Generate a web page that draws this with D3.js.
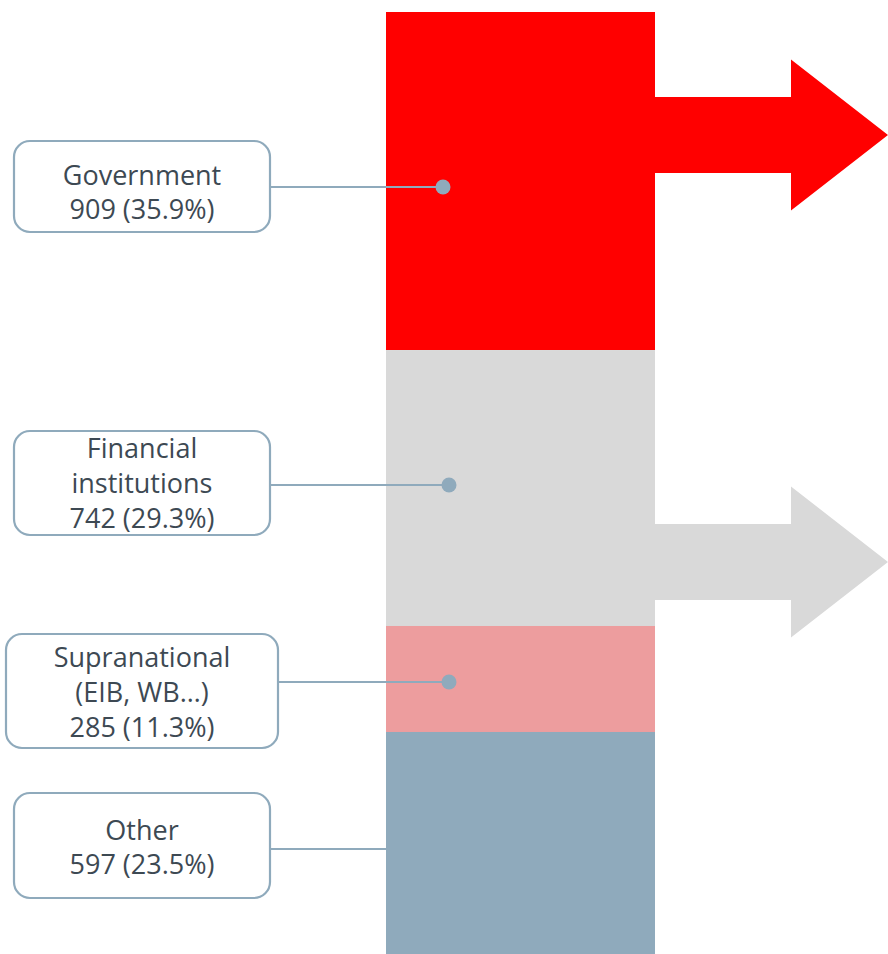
<!DOCTYPE html>
<html><head><meta charset="utf-8">
<script src="https://cdn.jsdelivr.net/npm/d3@7"></script>
<style>html,body{margin:0;padding:0;background:#fff;}svg{display:block;}</style>
</head><body>
<svg id="chart" width="888" height="954"></svg>
<script>
const categories = ["Government", "Financial institutions", "Supranational (EIB, WB…)", "Other"];
const labelLines = [["Government"], ["Financial", "institutions"], ["Supranational", "(EIB, WB…)"], ["Other"]];
const values = [909, 742, 285, 597];
const percents = [35.9, 29.3, 11.3, 23.5];
const colors = ["#ff0000", "#d9d9d9", "#ed9d9e", "#8faabc"];
const arrowCategories = ["Government", "Financial institutions"];

const svg = d3.select("#chart");
const total = d3.sum(values);
const y = d3.scaleLinear().domain([0, total]).range([12, 954]);
const x = d3.scaleBand().domain(["all"]).range([386, 655]).padding(0);

let cum = 0;
const segs = values.map((v, i) => { const s = {cat: categories[i], v, p: percents[i], c: colors[i], y0: cum, y1: cum + v, lines: labelLines[i]}; cum += v; return s; });

// arrows
const arrowY = {"Government": 135, "Financial institutions": 562};
arrowCategories.forEach(cat => {
  const s = segs.find(d => d.cat === cat);
  const cy = arrowY[cat];
  const x0 = x("all") + x.bandwidth(), xh = 791, xt = 888, sh = 38, hh = 75.5;
  const pts = [[x0 - 1, cy - sh], [xh, cy - sh], [xh, cy - hh], [xt, cy], [xh, cy + hh], [xh, cy + sh], [x0 - 1, cy + sh]];
  svg.append("path").attr("d", d3.line()(pts) + "Z").attr("fill", s.c);
});

// bars
svg.selectAll("rect.seg").data(segs).join("rect").attr("class", "seg")
  .attr("x", x("all")).attr("width", x.bandwidth())
  .attr("y", d => y(d.y0)).attr("height", d => y(d.y1) - y(d.y0))
  .attr("fill", d => d.c);

// labels
const lineColor = "#8faabc";
const lineYs = [187, 485, 682, 849];
const boxes = [
  {x: 14, y: 141, w: 256, h: 91, t: 185},
  {x: 14, y: 431, w: 256, h: 104, t: 458},
  {x: 6, y: 634, w: 272, h: 114, t: 667},
  {x: 14, y: 793, w: 256, h: 105, t: 840}
];
segs.forEach((s, i) => {
  const b = boxes[i];
  const ly = lineYs[i];
  const hasDot = i < 3;
  const dotX = i === 0 ? 443 : 449;
  svg.append("line").attr("x1", b.x + b.w).attr("x2", hasDot ? dotX : x("all"))
    .attr("y1", ly).attr("y2", ly).attr("stroke", lineColor).attr("stroke-width", 2.2);
  if (hasDot) svg.append("circle").attr("cx", dotX).attr("cy", ly).attr("r", 7.5).attr("fill", lineColor);
  svg.append("rect").attr("x", b.x).attr("y", b.y).attr("width", b.w).attr("height", b.h)
    .attr("rx", 16).attr("fill", "#fff").attr("stroke", lineColor).attr("stroke-width", 2.2);
  const lines = s.lines.concat([`${s.v} (${s.p.toFixed(1)}%)`]);
  const lh = lines.length === 2 ? 34 : 35;
  const cx = b.x + b.w / 2;
  const t = svg.append("text").attr("text-anchor", "middle").attr("fill", "#3d4953")
    .style("font-family", "'Open Sans', sans-serif").style("font-size", "27px");
  lines.forEach((ln, k) => t.append("tspan").attr("x", cx).attr("y", b.t + k * lh).text(ln));
});
</script>
</body></html>
